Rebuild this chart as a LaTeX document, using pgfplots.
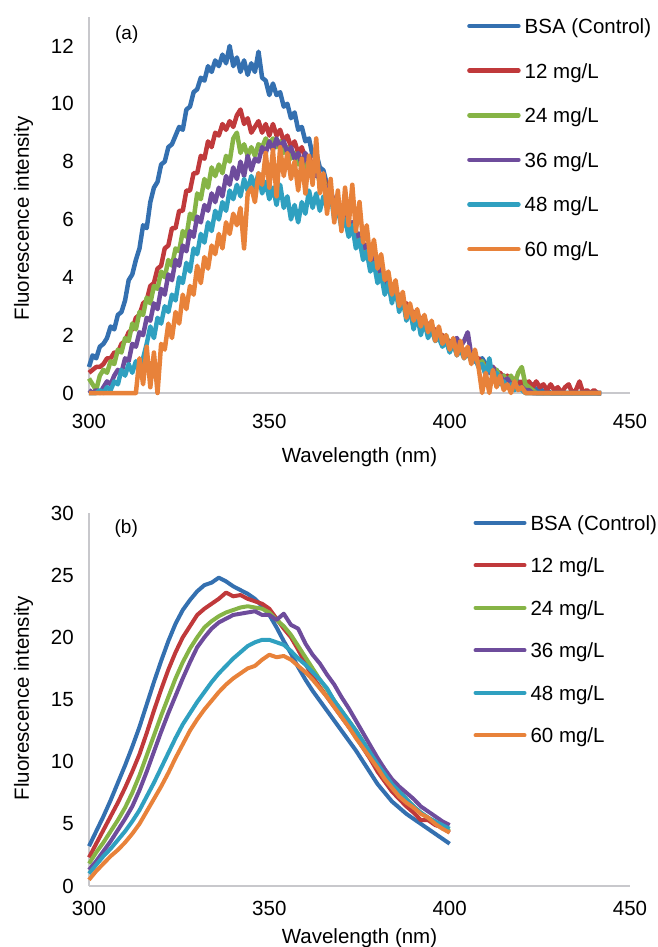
\documentclass[border=0pt]{standalone}
\usepackage{pgfplots}
\pgfplotsset{compat=1.18}
\usepackage{pgfplotstable}
\usepackage{fontspec}
\setmainfont{Liberation Sans}
\definecolor{cBlue}{RGB}{52,112,176}
\definecolor{cRed}{RGB}{192,57,59}
\definecolor{cGreen}{RGB}{134,180,70}
\definecolor{cPurple}{RGB}{110,76,156}
\definecolor{cCyan}{RGB}{47,160,192}
\definecolor{cOrange}{RGB}{232,130,58}
\definecolor{axgray}{RGB}{200,200,204}
\newcommand{\fs}{\fontsize{20.5}{24}\selectfont}

\pgfplotstableread{
x b r g p c o
300 0.9 0.7 0.5 0.1 0.0 0.0
301 1.3 0.8 0.3 0.0 0.0 0.0
302 1.2 0.9 0.1 0.1 0.0 0.0
303 1.6 0.9 0.6 0.0 0.1 0.0
304 1.7 1.0 0.8 0.2 0.0 0.0
305 1.9 1.2 0.7 0.4 0.2 0.0
306 2.3 1.2 1.1 0.3 0.1 0.0
307 2.2 1.4 1.0 0.6 0.4 0.0
308 2.7 1.4 1.5 0.8 0.3 0.0
309 2.8 1.7 1.4 0.7 0.8 0.0
310 3.2 1.8 1.9 1.2 0.6 0.0
311 3.9 2.1 1.8 1.1 1.0 0.0
312 4.1 2.2 2.4 1.7 0.7 0.0
313 4.6 2.6 2.2 1.6 1.1 0.0
314 5.0 2.7 2.8 2.1 0.8 1.2
315 5.8 3.1 2.7 2.0 1.2 0.3
316 5.7 3.2 3.3 2.6 1.7 1.6
317 6.6 3.7 3.1 2.5 2.3 0.2
318 7.1 3.8 3.7 3.1 1.9 1.4
319 7.3 4.3 3.6 2.9 2.6 0.0
320 7.9 4.4 4.2 3.6 2.4 1.7
321 8.0 5.0 4.0 3.4 3.0 1.5
322 8.5 5.1 4.6 4.1 2.8 2.4
323 8.6 5.7 4.4 3.9 3.4 1.9
324 8.9 5.7 5.0 4.6 3.2 2.8
325 9.2 6.3 4.9 4.4 4.0 2.4
326 9.1 6.3 5.6 5.1 3.8 3.4
327 9.8 7.0 5.4 4.9 4.5 2.9
328 9.9 7.0 6.2 5.6 4.2 3.7
329 10.4 7.6 6.0 5.4 5.0 3.4
330 10.5 7.6 6.9 6.1 4.8 4.4
331 10.9 8.2 6.7 5.9 5.5 3.8
332 10.8 8.1 7.4 6.5 5.2 4.7
333 11.3 8.7 7.1 6.3 5.9 4.3
334 11.1 8.5 7.8 6.9 5.6 5.1
335 11.5 9.0 7.5 6.6 6.3 4.8
336 11.3 8.9 7.9 7.1 6.0 5.5
337 11.7 9.3 7.6 6.8 6.6 5.0
338 11.4 9.1 8.2 7.5 6.3 5.9
339 12.0 9.4 8.0 7.2 7.0 5.5
340 11.3 9.2 8.8 7.8 6.7 6.2
341 11.6 9.6 9.0 7.4 7.2 5.8
342 11.1 9.8 8.3 8.0 6.8 6.4
343 11.5 9.3 8.6 7.5 7.4 5.0
344 11.0 9.5 8.2 8.2 7.0 6.9
345 11.4 9.0 8.5 7.7 7.5 7.1
346 11.1 9.2 8.2 8.1 7.1 6.6
347 11.8 9.4 8.6 8.0 7.6 7.6
348 10.9 9.0 8.5 8.5 6.9 7.2
349 10.8 9.3 8.8 8.3 7.3 8.3
350 10.3 8.9 8.6 8.7 6.7 7.1
351 10.7 9.3 8.8 8.4 7.1 8.4
352 10.3 8.9 8.5 8.8 6.5 6.8
353 10.4 9.1 8.7 8.5 7.2 8.5
354 9.9 8.7 8.3 8.7 6.4 7.5
355 10.0 8.9 8.5 8.3 6.8 8.3
356 9.5 8.5 8.1 8.5 6.0 7.4
357 9.7 8.7 8.3 8.1 6.5 8.0
358 9.1 8.3 7.9 8.3 5.9 7.0
359 9.2 8.5 8.1 7.9 6.6 8.1
360 8.7 8.1 7.8 8.3 6.2 6.9
361 8.8 8.2 7.9 7.8 7.0 8.2
362 8.2 7.8 7.6 7.7 6.4 7.2
363 8.3 7.9 7.7 7.5 6.9 8.8
364 7.8 7.5 7.3 7.5 6.3 6.9
365 7.7 7.5 7.4 7.2 6.8 7.6
366 7.2 7.1 7.0 7.1 6.4 6.2
367 6.9 6.8 6.9 7.0 6.9 7.4
368 6.6 6.7 6.5 6.6 6.0 5.9
369 6.5 6.3 6.6 6.7 6.4 7.0
370 6.1 6.3 6.0 6.2 5.7 5.6
371 6.2 5.9 6.1 6.3 6.0 7.1
372 5.8 6.0 5.7 5.8 5.4 5.8
373 5.9 5.6 5.8 5.9 5.8 7.2
374 5.5 5.6 5.3 5.4 5.0 5.6
375 5.5 5.2 5.5 5.5 5.3 6.6
376 5.1 5.2 4.9 5.0 4.6 5.2
377 5.1 4.8 5.0 5.1 4.9 5.8
378 4.7 4.9 4.5 4.6 4.2 4.6
379 4.7 4.4 4.6 4.7 4.5 5.3
380 4.3 4.5 4.1 4.2 3.8 4.3
381 4.3 4.0 4.2 4.3 4.1 4.8
382 3.9 4.1 3.7 3.8 3.4 3.9
383 3.9 3.6 3.8 3.9 3.8 4.2
384 3.5 3.7 3.3 3.4 3.1 3.4
385 3.5 3.3 3.5 3.5 3.7 3.9
386 3.2 3.4 3.0 3.1 2.8 3.0
387 3.2 3.0 3.2 3.2 3.3 3.5
388 2.9 3.1 2.6 2.8 2.5 2.6
389 2.9 2.7 2.9 3.0 2.9 3.1
390 2.7 2.8 2.4 2.6 2.2 2.5
391 2.7 2.5 2.8 2.8 2.7 2.9
392 2.5 2.6 2.3 2.4 2.0 2.3
393 2.5 2.3 2.6 2.6 2.5 2.7
394 2.3 2.4 2.1 2.2 1.9 2.1
395 2.3 2.1 2.4 2.3 2.2 2.5
396 2.0 2.2 1.8 2.0 1.8 1.8
397 2.1 1.9 2.2 2.1 1.9 2.3
398 1.9 2.0 1.7 1.8 1.6 1.7
399 1.9 1.8 2.0 1.9 1.8 2.0
400 1.7 1.8 1.6 1.7 1.4 1.5
401 1.8 1.6 1.8 1.8 1.7 1.9
402 1.6 1.7 1.5 1.9 1.3 1.3
403 1.6 1.5 1.7 1.6 1.5 1.8
404 1.4 1.5 1.3 1.8 1.2 1.2
405 1.5 1.3 1.5 2.1 1.4 1.6
406 1.3 1.4 1.2 1.3 1.1 1.0
407 1.3 1.2 1.3 1.1 1.2 1.5
408 1.1 1.2 1.0 1.0 0.9 0.9
409 1.2 1.0 1.1 0.9 1.0 0.0
410 1.0 1.0 0.8 0.8 0.6 0.7
411 0.9 0.8 0.9 0.7 1.2 0.0
412 0.8 0.9 0.6 0.9 0.4 0.8
413 0.8 0.7 0.8 0.5 0.7 0.2
414 0.6 0.7 0.5 0.6 0.3 0.6
415 0.6 0.5 0.6 0.4 0.4 0.1
416 0.5 0.6 0.4 0.5 0.2 0.3
417 0.5 0.4 0.6 0.3 0.3 0.0
418 0.4 0.5 0.3 0.3 0.1 0.4
419 0.4 0.3 0.7 0.2 0.2 0.1
420 0.3 0.4 0.9 0.2 0.1 0.2
421 0.3 0.3 0.3 0.1 0.0 0.0
422 0.2 0.4 0.2 0.1 0.0 0.0
423 0.3 0.2 0.1 0.0 0.0 0.0
424 0.1 0.4 0.0 0.0 0.0 0.0
425 0.2 0.2 0.0 0.0 0.0 0.0
426 0.0 0.3 0.0 0.0 0.0 0.0
427 0.1 0.1 0.0 0.0 0.0 0.0
428 0.0 0.3 0.0 0.0 0.0 0.0
429 0.0 0.1 0.0 0.0 0.0 0.0
430 0.0 0.2 0.0 0.0 0.0 0.0
431 0.0 0.0 0.0 0.0 0.0 0.0
432 0.0 0.2 0.0 0.0 0.0 0.0
433 0.0 0.3 0.0 0.0 0.0 0.0
434 0.0 0.0 0.0 0.0 0.0 0.0
435 0.0 0.1 0.0 0.0 0.0 0.0
436 0.0 0.4 0.0 0.0 0.0 0.0
437 0.0 0.0 0.0 0.0 0.0 0.0
438 0.0 0.1 0.0 0.0 0.0 0.0
439 0.0 0.0 0.0 0.0 0.0 0.0
440 0.0 0.1 0.0 0.0 0.0 0.0
441 0.0 0.0 0.0 0.0 0.0 0.0
442 0.0 0.0 0.0 0.0 0.0 0.0
}\tabA

\pgfplotstableread{
x b r g p c o
300 3.2 2.3 1.8 1.3 1.0 0.5
302 4.4 3.4 2.7 2.0 1.7 1.2
304 5.6 4.5 3.5 2.8 2.4 1.8
306 6.9 5.6 4.4 3.6 3.0 2.4
308 8.3 6.7 5.3 4.5 3.7 2.9
310 9.7 7.9 6.3 5.4 4.4 3.5
312 11.2 9.2 7.5 6.4 5.2 4.2
314 12.8 10.6 8.9 7.7 6.1 5.0
316 14.6 12.3 10.5 9.2 7.2 6.0
318 16.4 14.1 12.1 10.8 8.3 7.0
320 18.1 15.8 13.7 12.4 9.5 8.0
322 19.7 17.4 15.2 13.9 10.7 9.1
324 21.1 18.8 16.7 15.3 11.9 10.3
326 22.2 20.0 18.0 16.7 13.0 11.4
328 23.0 20.9 19.1 18.0 13.9 12.5
330 23.7 21.8 20.0 19.2 14.8 13.4
332 24.2 22.3 20.8 20.0 15.6 14.2
334 24.4 22.7 21.3 20.7 16.4 14.9
336 24.8 23.1 21.7 21.2 17.1 15.6
338 24.5 23.6 22.0 21.5 17.7 16.2
340 24.1 23.3 22.2 21.8 18.3 16.7
342 23.8 23.4 22.4 21.9 18.8 17.1
344 23.5 23.1 22.5 22.0 19.3 17.5
346 23.1 22.9 22.4 22.1 19.6 17.7
348 22.5 22.7 22.3 21.8 19.8 18.2
350 21.8 22.3 22.0 21.8 19.8 18.6
352 20.8 21.5 21.4 21.4 19.6 18.4
354 19.7 20.7 20.9 21.9 19.4 18.5
356 18.7 20.0 20.2 21.0 18.9 18.2
358 17.6 19.0 19.3 20.7 18.3 17.7
360 16.6 17.9 18.4 19.5 17.8 17.2
362 15.7 16.8 17.5 18.6 17.2 16.6
364 14.9 16.0 16.6 17.9 16.6 15.9
366 14.1 15.2 15.8 17.0 15.9 15.2
368 13.3 14.4 14.9 16.2 14.9 14.4
370 12.5 13.6 14.1 15.2 14.1 13.6
372 11.7 12.8 13.3 14.3 13.3 12.8
374 10.9 12.0 12.5 13.3 12.5 11.9
376 10.0 11.1 11.6 12.3 11.6 11.1
378 9.1 10.2 10.7 11.3 10.7 10.3
380 8.2 9.2 9.8 10.3 9.8 9.5
382 7.5 8.4 9.0 9.4 9.0 8.6
384 6.8 7.6 8.2 8.6 8.2 7.9
386 6.3 7.0 7.6 8.0 7.6 7.2
388 5.8 6.4 7.0 7.5 7.0 6.7
390 5.4 5.9 6.4 7.0 6.4 6.3
392 5.0 5.3 5.9 6.4 5.9 5.8
394 4.6 5.3 5.5 6.0 5.5 5.5
396 4.2 4.9 5.1 5.6 5.2 5.0
398 3.8 4.7 4.7 5.2 4.9 4.6
400 3.4 4.3 4.4 4.9 4.6 4.3
}\tabB

\pgfplotsset{
  fluo/.style={
    scale only axis, width=541pt,
    xmin=300, xmax=450, xtick={300,350,400,450},
    axis x line*=bottom, axis y line*=left,
    axis line style={draw=axgray, line width=1.8pt},
    major tick length=0pt,
    tick label style={font=\fs},
    /pgf/number format/assume math mode=true,
    yticklabel style={anchor=east, inner sep=0pt, xshift=-15pt},
    clip=false,
    legend cell align=left,
    legend image code/.code={\draw[##1, line cap=round] (2.5pt,0pt) -- (51.5pt,0pt);},
    every axis plot/.append style={line join=round, mark=none},
    xlabel={Wavelength (nm)}, ylabel={Fluorescence intensity},
  }
}

\begin{document}
\begin{tikzpicture}
\path[use as bounding box] (-89pt,-554pt) rectangle (569pt,393pt);

\begin{axis}[fluo, at={(0pt,0pt)}, anchor=south west,
  height=376pt, ymin=0, ymax=13, ytick={0,2,...,12},
  xticklabel style={anchor=base, inner sep=0pt, yshift=-35pt},
  every axis x label/.style={at={(axis description cs:0.5,0)}, anchor=base, yshift=-69pt, font=\fs},
  every axis y label/.style={at={(axis description cs:-0.1211,0.464)}, rotate=90, anchor=center, font=\fs},
  legend style={at={(rel axis cs:0.6987,0.996)}, anchor=north west, draw=none, fill=none,
    inner sep=0pt, font=\fs, row sep=29.9pt, column sep=4pt,
    nodes={inner sep=0pt, text height=14.7pt, text depth=0pt}},
  every axis plot/.append style={line width=4.5pt}]
\addplot[cBlue] table[x=x,y=b]{\tabA};
\addplot[cRed] table[x=x,y=r]{\tabA};
\addplot[cGreen] table[x=x,y=g]{\tabA};
\addplot[cPurple] table[x=x,y=p]{\tabA};
\addplot[cCyan] table[x=x,y=c]{\tabA};
\addplot[cOrange] table[x=x,y=o]{\tabA};
\legend{BSA (Control),12 mg/L,24 mg/L,36 mg/L,48 mg/L,60 mg/L}
\node[anchor=base west, inner sep=0pt, font=\fontsize{19}{22}\selectfont] at (rel axis cs:0.048,0.940) {(a)};
\end{axis}

\begin{axis}[fluo, at={(0pt,-493pt)}, anchor=south west,
  height=373pt, ymin=0, ymax=30, ytick={0,5,...,30},
  xticklabel style={anchor=base, inner sep=0pt, yshift=-29pt},
  every axis x label/.style={at={(axis description cs:0.5,0)}, anchor=base, yshift=-57pt, font=\fs},
  every axis y label/.style={at={(axis description cs:-0.1211,0.503)}, rotate=90, anchor=center, font=\fs},
  legend style={at={(rel axis cs:0.7104,0.994)}, anchor=north west, draw=none, fill=none,
    inner sep=0pt, font=\fs, row sep=27.8pt, column sep=4pt,
    nodes={inner sep=0pt, text height=14.7pt, text depth=0pt}},
  every axis plot/.append style={line width=4pt}]
\addplot[cBlue] table[x=x,y=b]{\tabB};
\addplot[cRed] table[x=x,y=r]{\tabB};
\addplot[cGreen] table[x=x,y=g]{\tabB};
\addplot[cPurple] table[x=x,y=p]{\tabB};
\addplot[cCyan] table[x=x,y=c]{\tabB};
\addplot[cOrange] table[x=x,y=o]{\tabB};
\legend{BSA (Control),12 mg/L,24 mg/L,36 mg/L,48 mg/L,60 mg/L}
\node[anchor=base west, inner sep=0pt, font=\fontsize{19}{22}\selectfont] at (rel axis cs:0.047,0.945) {(b)};
\end{axis}
\end{tikzpicture}
\end{document}
